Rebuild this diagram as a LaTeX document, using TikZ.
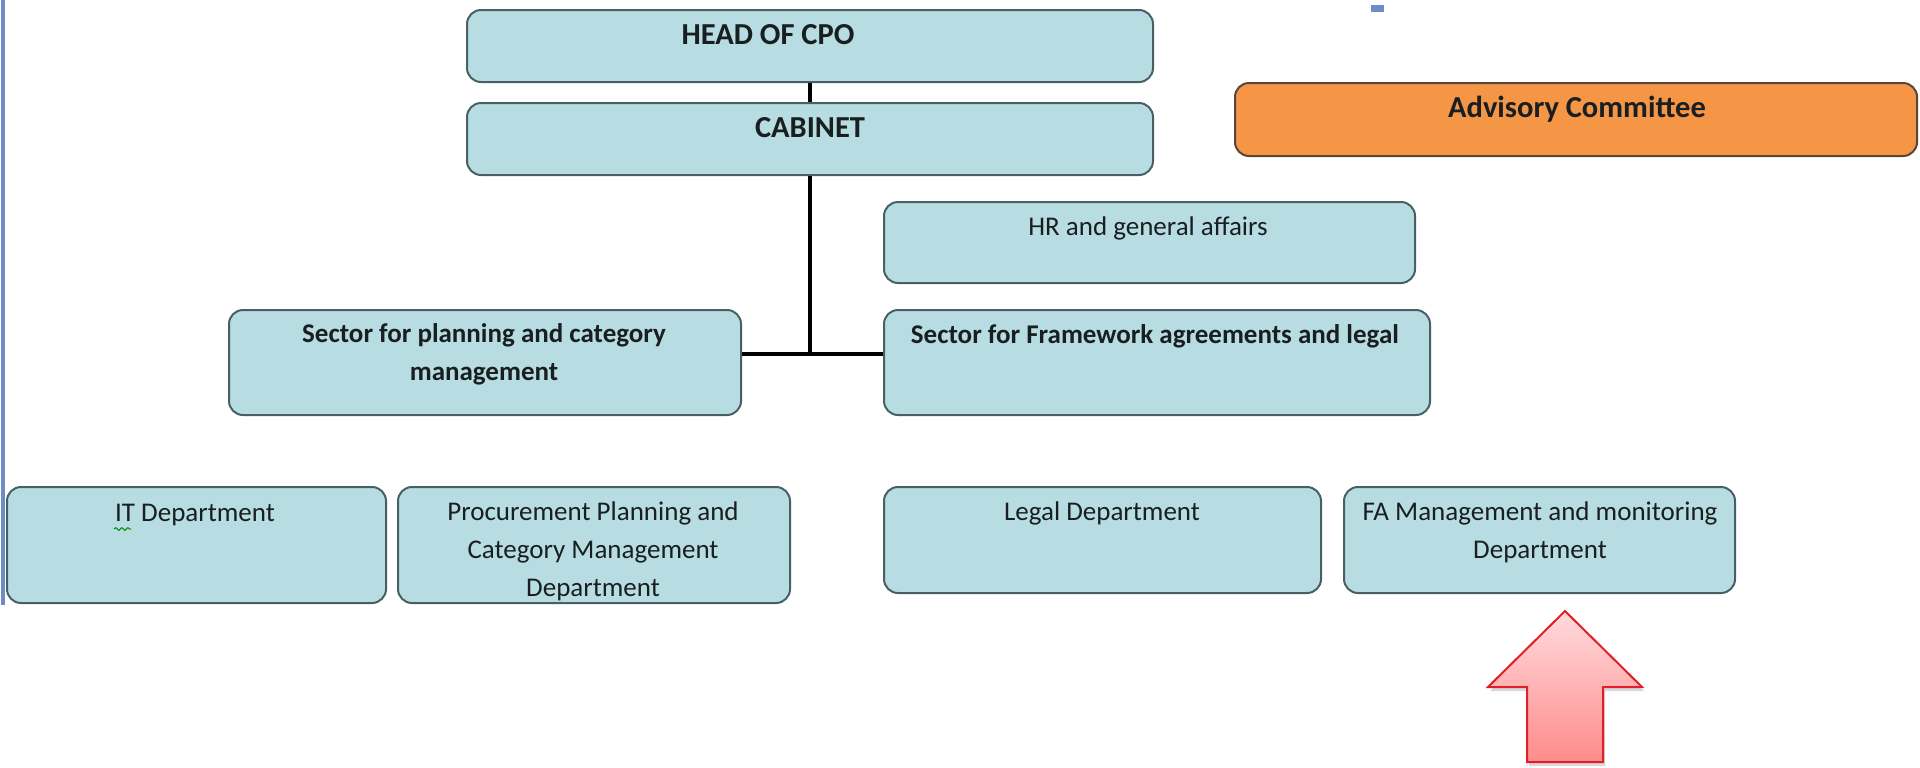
\documentclass[tikz,border=0pt]{standalone}
\usepackage{fontspec}
\setmainfont{Carlito}
\usetikzlibrary{shadows,decorations.pathmorphing}
\definecolor{boxfill}{RGB}{183,221,226}
\definecolor{boxline}{RGB}{72,96,100}
\definecolor{orangefill}{RGB}{245,150,70}
\definecolor{orangeline}{RGB}{90,70,55}
\definecolor{txtc}{RGB}{25,30,32}
\definecolor{arrowred}{RGB}{226,30,40}
\definecolor{arrowtop}{RGB}{255,218,220}
\definecolor{arrowbot}{RGB}{255,140,140}
\definecolor{edgeblue}{RGB}{110,140,200}
\newcommand{\lns}[1]{\begin{tabular}[t]{@{}c@{}}#1\end{tabular}}
\begin{document}
\begin{tikzpicture}[x=0.5pt,y=-0.5pt,
  bx/.style={draw=boxline, fill=boxfill, rounded corners=7pt, line width=1pt, inner sep=0pt},
  orgbx/.style={bx, draw=orangeline, fill=orangefill},
  txt/.style={inner sep=0pt, anchor=mid, text=txtc, font=\fontsize{13.5}{19}\selectfont},
  btxt/.style={txt, font=\fontsize{13.5}{19}\selectfont\bfseries},
  htxt/.style={txt, font=\fontsize{15.25}{19}\selectfont\bfseries},
  link/.style={line width=1.8pt, black}]
\useasboundingbox (0,0) rectangle (1920,767);
% page marks
\draw[edgeblue, line width=1.8pt] (3,0) -- (3,605);
\fill[edgeblue] (1371,5) rectangle (1384,12);
% boxes
\node[bx, minimum width=343pt, minimum height=36pt] (head) at (810,46) {};
\node[bx, minimum width=343pt, minimum height=36pt] (cab) at (810,139) {};
\node[orgbx, minimum width=341pt, minimum height=36.5pt] (adv) at (1576,119.5) {};
\node[bx, minimum width=265.5pt, minimum height=40.5pt] (hr) at (1149.5,242.5) {};
\node[bx, minimum width=273pt, minimum height=52.5pt] (secfa) at (1157,362.5) {};
\node[bx, minimum width=256pt, minimum height=52.5pt] (secpl) at (485,362.5) {};
\node[bx, minimum width=189.5pt, minimum height=58pt] (it) at (196.5,545) {};
\node[bx, minimum width=196pt, minimum height=58pt] (proc) at (594,545) {};
\node[bx, minimum width=218.5pt, minimum height=53pt] (legal) at (1102.5,540) {};
\node[bx, minimum width=195.5pt, minimum height=53pt] (fa) at (1539.5,540) {};
% texts
\node[htxt] (thead) at (768,40) {HEAD OF CPO};
\node[htxt] (tcab) at (810,133) {CABINET};
\node[htxt] (tadv) at (1577,113) {Advisory Committee};
\node[txt] (thr) at (1148,231) {HR and general affairs};
\node[btxt] (tsecfa) at (1155,339) {Sector for Framework agreements and legal};
\node[btxt] (tsecpl) at (484,338) {\lns{Sector for planning and category\\management}};
\node[txt] (tit) at (195,517) {IT Department};
\node[txt] (tproc) at (593,516) {\lns{Procurement Planning and\\Category Management\\Department}};
\node[txt] (tlegal) at (1102,516) {Legal Department};
\node[txt] (tfa) at (1540,516) {\lns{FA Management and monitoring\\Department}};
\draw[green!55!black, line width=0.5pt, decorate, decoration={snake, segment length=3pt, amplitude=0.7pt}] (114,529) -- (131,529);
% connectors
\coordinate (j) at (810,354);
\draw[link] (head.south) -- (cab.north);
\draw[link] (cab.south) -- (j);
\draw[link] (secpl.east |- j) -- (secfa.west |- j);
% red arrow
\path[draw=arrowred, line width=1pt, top color=arrowtop, bottom color=arrowbot,
  drop shadow={shadow xshift=1pt, shadow yshift=-2pt, opacity=0.3}]
  (1565,611) -- (1642,687) -- (1603,687) -- (1603,762) -- (1527,762) -- (1527,687) -- (1488,687) -- cycle;
\end{tikzpicture}
\end{document}
